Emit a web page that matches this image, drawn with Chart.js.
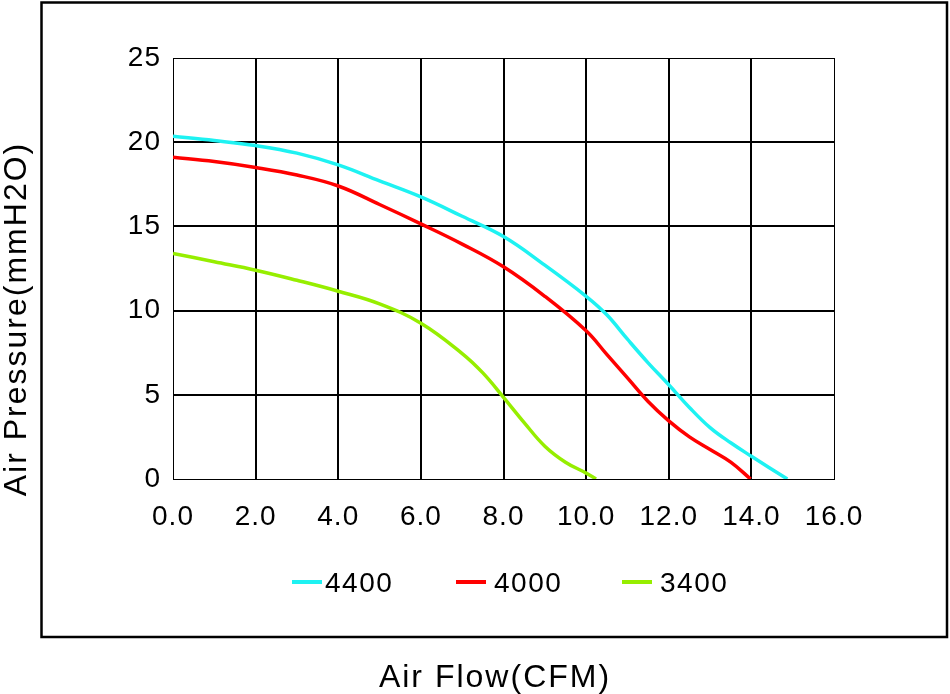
<!DOCTYPE html>
<html>
<head>
<meta charset="utf-8">
<script src="https://cdn.jsdelivr.net/npm/chart.js@4.4.0/dist/chart.umd.min.js"></script>
<style>
html, body { margin: 0; padding: 0; background: #fff; }
#wrap { width: 950px; height: 694px; }
</style>
</head>
<body>
<div id="wrap"><canvas id="fanChart" width="950" height="694"></canvas></div>
<script>
// fan curves
const seriesNames = ['4400', '4000', '3400']
const seriesColors = ['#1ef2f2', '#ff0000', '#96ee00']

const flow4400 = [0, 1, 2, 3, 4, 5, 6, 7, 8, 9, 10, 10.5, 11, 11.5, 12, 12.5, 13, 13.5, 14, 14.87]
const pressure4400 = [20.35, 20.1, 19.8, 19.35, 18.65, 17.7, 16.75, 15.6, 14.4, 12.7, 10.85, 9.75, 8.3, 6.9, 5.6, 4.25, 3.05, 2.15, 1.35, 0]

const flow4000 = [0, 1, 2, 3, 4, 5, 6, 7, 8, 9, 10, 10.5, 11, 11.5, 12, 12.5, 13, 13.5, 13.98]
const pressure4000 = [19.1, 18.85, 18.5, 18.05, 17.4, 16.3, 15.15, 13.95, 12.6, 10.85, 8.8, 7.4, 6.0, 4.6, 3.45, 2.5, 1.75, 1.0, 0]

const flow3400 = [0, 1, 2, 3, 4, 5, 6, 7, 7.5, 8, 8.5, 9, 9.5, 10, 10.24]
const pressure3400 = [13.4, 12.9, 12.4, 11.8, 11.15, 10.4, 9.25, 7.45, 6.3, 4.85, 3.35, 1.95, 1.0, 0.35, 0]

const xTitle = 'Air Flow(CFM)'
const yTitle = 'Air Pressure(mmH2O)'

const fontFamily = '"Liberation Sans", Arial, Helvetica, sans-serif'

function toPoints(xs, ys) {
    return xs.map((x, i) => ({ x: x, y: ys[i] }))
}

const flows = [flow4400, flow4000, flow3400]
const pressures = [pressure4400, pressure4000, pressure3400]

// legend positions (line start x) for each series
const legendX = [292, 456, 622]

const framePlugin = {
    id: 'frame',
    beforeDraw(chart) {
        chart.ctx.letterSpacing = '1px'
    },
    afterDraw(chart) {
        const ctx = chart.ctx
        ctx.save()
        // outer box
        ctx.strokeStyle = '#000'
        ctx.lineWidth = 2.5
        ctx.strokeRect(41.5, 2.5, 905.5, 634.5)

        // legend
        ctx.letterSpacing = '1.5px'
        ctx.font = '28px ' + fontFamily
        ctx.textBaseline = 'alphabetic'
        ctx.textAlign = 'left'
        for (let i = 0; i < seriesNames.length; i++) {
            ctx.strokeStyle = seriesColors[i]
            ctx.lineWidth = 4
            ctx.beginPath()
            ctx.moveTo(legendX[i], 582)
            ctx.lineTo(legendX[i] + 30, 582)
            ctx.stroke()
            ctx.fillStyle = '#000'
            ctx.fillText(seriesNames[i], legendX[i] + (i == 0 ? 33 : 38), 592)
        }

        // axis titles
        ctx.letterSpacing = '2px'
        ctx.font = '32px ' + fontFamily
        ctx.textAlign = 'center'
        ctx.fillText(xTitle, 495, 687)
        ctx.translate(26, 319)
        ctx.rotate(-Math.PI / 2)
        ctx.fillText(yTitle, 0, 0)
        ctx.restore()
    }
}

function edgeWidth(count) {
    return (context) => (context.index === 0 || context.index === count) ? 1 : 2
}

const ctx = document.getElementById('fanChart')
const myChart = new Chart(ctx, {
    type: 'line',
    data: {
        datasets: seriesNames.map((name, i) => ({
            label: name,
            data: toPoints(flows[i], pressures[i]),
            borderColor: seriesColors[i],
            backgroundColor: seriesColors[i],
            borderWidth: 3.5,
            pointRadius: 0,
            tension: 0.4,
            fill: false
        }))
    },
    options: {
        responsive: false,
        animation: false,
        layout: {
            padding: { left: 0, top: 58, right: 116, bottom: 0 }
        },
        plugins: {
            legend: { display: false },
            tooltip: { enabled: false }
        },
        scales: {
            x: {
                type: 'linear',
                min: 0,
                max: 16,
                afterFit: (scale) => { scale.height = 215 },
                ticks: {
                    stepSize: 2,
                    color: '#000',
                    padding: 21,
                    font: { family: fontFamily, size: 28 },
                    callback: (v) => v.toFixed(1)
                },
                grid: {
                    color: '#000',
                    lineWidth: edgeWidth(8),
                    drawTicks: false
                },
                border: { display: true, color: '#000', width: 1 }
            },
            y: {
                type: 'linear',
                min: 0,
                max: 25,
                afterFit: (scale) => { scale.width = 173 },
                ticks: {
                    stepSize: 5,
                    color: '#000',
                    padding: 12,
                    font: { family: fontFamily, size: 28 }
                },
                grid: {
                    color: '#000',
                    lineWidth: edgeWidth(5),
                    drawTicks: false
                },
                border: { display: true, color: '#000', width: 1 }
            }
        }
    },
    plugins: [framePlugin]
})
</script>
</body>
</html>
